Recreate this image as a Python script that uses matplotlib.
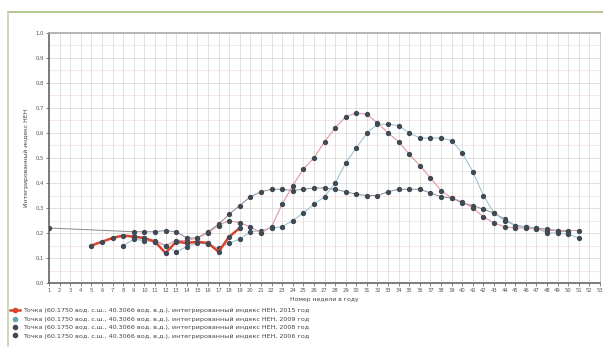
import numpy as np
import matplotlib
matplotlib.use("Agg")
import matplotlib.pyplot as plt
from matplotlib.lines import Line2D

# weekly index values
weeks_2015 = [5, 6, 7, 8, 9, 10, 11, 12, 13, 14, 15, 16, 17, 18, 19]
vals_2015 = [0.15, 0.165, 0.18, 0.19, 0.185, 0.18, 0.165, 0.12, 0.165, 0.16,
             0.165, 0.16, 0.125, 0.185, 0.22]

weeks_a = list(range(9, 52))
vals_a = [0.19, 0.18, 0.17, 0.15, 0.17, 0.17, 0.18, 0.20, 0.23, 0.25,
          0.24, 0.225, 0.20, 0.225, 0.315, 0.39, 0.455, 0.50, 0.565, 0.62,
          0.665, 0.68, 0.675, 0.64, 0.60, 0.565, 0.515, 0.47, 0.42, 0.37,
          0.34, 0.325, 0.30, 0.265, 0.24, 0.225, 0.22, 0.22, 0.215, 0.21,
          0.21, 0.21, 0.21]

weeks_b = list(range(8, 52))
vals_b = [0.15, 0.175, 0.17, 0.165, 0.15, 0.125, 0.145, 0.16, 0.155, 0.14,
          0.16, 0.175, 0.205, 0.21, 0.22, 0.225, 0.25, 0.28, 0.315, 0.345,
          0.40, 0.48, 0.54, 0.60, 0.635, 0.635, 0.63, 0.60, 0.58, 0.58,
          0.58, 0.57, 0.52, 0.445, 0.35, 0.28, 0.25, 0.23, 0.225, 0.22,
          0.20, 0.20, 0.195, 0.18]

weeks_c = [1] + list(range(9, 51))
vals_c = [0.22, 0.205, 0.205, 0.205, 0.21, 0.205, 0.18, 0.18, 0.205, 0.235,
          0.275, 0.31, 0.345, 0.365, 0.375, 0.375, 0.37, 0.375, 0.38, 0.38,
          0.375, 0.365, 0.355, 0.35, 0.35, 0.365, 0.375, 0.375, 0.375, 0.36,
          0.345, 0.34, 0.32, 0.31, 0.295, 0.28, 0.255, 0.23, 0.225, 0.22,
          0.215, 0.21, 0.205]

legend_labels = [
    "Точка (60.1750 вод. с.ш., 40.3066 вод. в.д.), интегрированный индекс НЕН, 2015 год",
    "Точка (60.1750 вод. с.ш., 40.3066 вод. в.д.), интегрированный индекс НЕН, 2009 год",
    "Точка (60.1750 вод. с.ш., 40.3066 вод. в.д.), интегрированный индекс НЕН, 2008 год",
    "Точка (60.1750 вод. с.ш., 40.3066 вод. в.д.), интегрированный индекс НЕН, 2006 год",
]

mk = "#3f4a55"

fig = plt.figure(figsize=(6.03, 3.47), dpi=100)
ax = fig.add_axes([49 / 603, 64 / 347, 551 / 603, 250 / 347])

ax.plot(weeks_c, vals_c, color="#8a8a8a", lw=0.7, marker="o", ms=2.8,
        mfc=mk, mec=mk, zorder=3)
ax.plot(weeks_b, vals_b, color="#9cc6d2", lw=0.8, marker="o", ms=2.8,
        mfc=mk, mec=mk, zorder=3)
ax.plot(weeks_a, vals_a, color="#e597a3", lw=0.8, marker="o", ms=2.8,
        mfc=mk, mec=mk, zorder=3)
ax.plot(weeks_2015, vals_2015, color="#d8432f", lw=1.8, marker="o", ms=2.8,
        mfc=mk, mec=mk, zorder=4)

ax.set_xlim(1, 53)
ax.set_ylim(0, 1.0)
ax.set_xticks(range(1, 54))
ax.set_xticklabels([str(i) for i in range(1, 54)], fontsize=3.8, color="#555")
yt = np.arange(0, 1.01, 0.1)
ax.set_yticks(yt)
ax.set_yticklabels([f"{v:.1f}".replace(".", ",") for v in yt],
                   fontsize=3.8, color="#555")
ax.set_yticks(np.arange(0.05, 1.0, 0.1), minor=True)
ax.tick_params(which="both", length=2, width=0.5, pad=1.5, colors="#555")
ax.tick_params(which="minor", length=0)
ax.grid(True, which="major", axis="both", color="#dcdcdc", lw=0.6)
ax.grid(True, which="minor", axis="y", color="#f3dde3", lw=0.5)

for s in ["left", "bottom"]:
    ax.spines[s].set_color("#666")
    ax.spines[s].set_linewidth(1.2)
ax.spines["top"].set_color("#aaa")
ax.spines["top"].set_linewidth(1.2)
ax.spines["right"].set_color("#ccc")
ax.spines["right"].set_linewidth(0.8)

ax.set_xlabel("Номер недели в году", fontsize=4.4, color="#444", labelpad=3)
ax.set_ylabel("Интегрированный индекс НЕН", fontsize=4.4, color="#444",
              labelpad=5)

# legend rows at bottom
handles = [
    Line2D([], [], color="#d8432f", lw=1.8, marker="o", ms=3, mfc="#d8432f", mec="#d8432f"),
    Line2D([], [], color="none", marker="o", ms=3, mfc="#6aa6b8", mec="#6aa6b8"),
    Line2D([], [], color="none", marker="o", ms=3, mfc=mk, mec=mk),
    Line2D([], [], color="none", marker="o", ms=3, mfc=mk, mec=mk),
]
fig.legend(handles, legend_labels, loc="upper left",
           bbox_to_anchor=(10 / 603, 1 - 308 / 347), frameon=False,
           fontsize=4.6, labelspacing=0.45, handlelength=1.6,
           handletextpad=0.4, borderaxespad=0, borderpad=0,
           labelcolor="#444")

# green frame
fig.add_artist(Line2D([8 / 603, 1], [1 - 12 / 347, 1 - 12 / 347],
                      color="#a9bd80", lw=1.2, transform=fig.transFigure))
fig.add_artist(Line2D([8 / 603, 8 / 603], [0, 1 - 12 / 347],
                      color="#c5d3a8", lw=1.2, transform=fig.transFigure))

fig.savefig("out.png", dpi=100)
